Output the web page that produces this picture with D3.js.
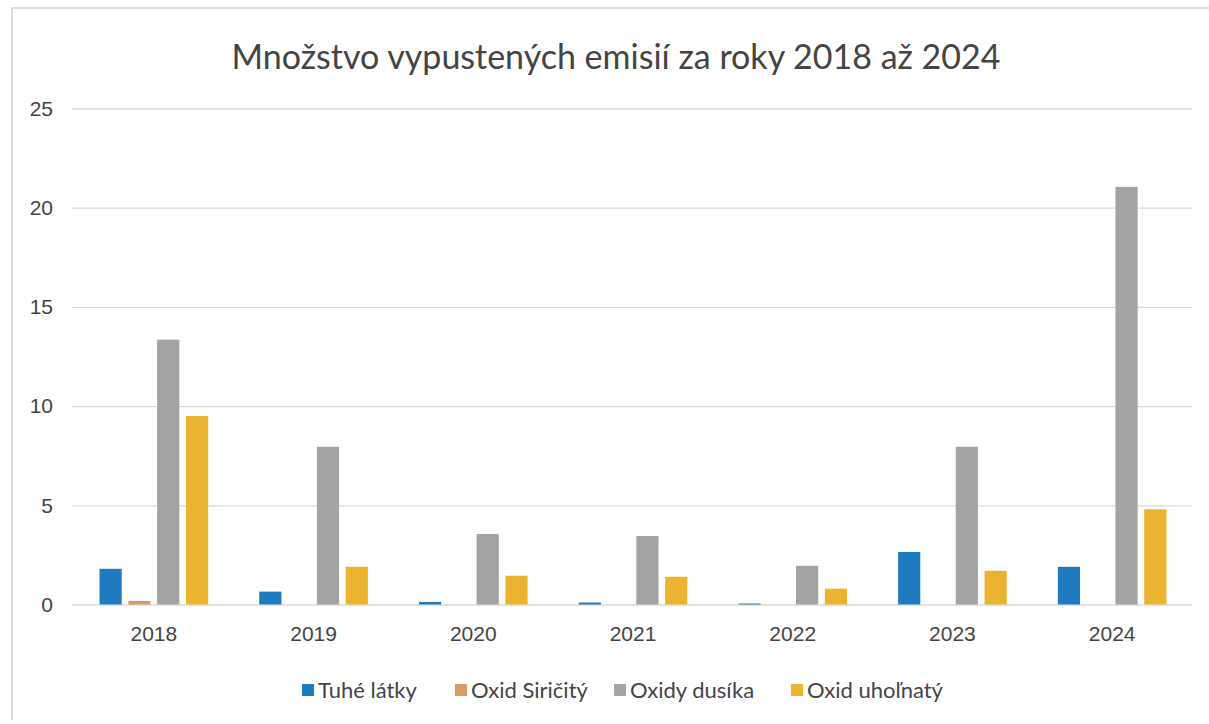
<!DOCTYPE html>
<html>
<head>
<meta charset="utf-8">
<script src="https://cdn.jsdelivr.net/npm/d3@7"></script>
<style>
    body { margin: 0; background: #fff; }
    svg { font-family: Lato, "Open Sans", sans-serif; }
</style>
</head>
<body>
<svg id="chart"></svg>
<script>
const years = ["2018", "2019", "2020", "2021", "2022", "2023", "2024"];
const seriesNames = ["Tuhé látky", "Oxid Siričitý", "Oxidy dusíka", "Oxid uhoľnatý"];
const tuheLatky = [1.8, 0.65, 0.13, 0.1, 0.05, 2.65, 1.9];
const oxidSiricity = [0.18, 0, 0, 0, 0, 0, 0];
const oxidyDusika = [13.35, 7.95, 3.55, 3.45, 1.95, 7.95, 21.05];
const oxidUholnaty = [9.5, 1.9, 1.45, 1.4, 0.8, 1.7, 4.8];
const yTicks = [0, 5, 10, 15, 20, 25];
const colors = ["#1f7bc0", "#d99a63", "#a3a3a1", "#ecb331"];

const width = 1209, height = 724;
const margin = { top: 108.5, right: 17, bottom: 119.5, left: 74 };

const svg = d3.select("#chart")
    .attr("width", width)
    .attr("height", height);

// scan frame (only left and top edges show in the scan)
svg.append("path")
    .attr("d", "M12,720 V8 H1209")
    .attr("fill", "none")
    .attr("stroke", "#d4d4d4")
    .attr("stroke-width", 1.5);

let values = [tuheLatky, oxidSiricity, oxidyDusika, oxidUholnaty];
let data = years.map((y, i) => ({
    year: y,
    vals: seriesNames.map((s, j) => ({ key: s, idx: j, value: values[j][i] }))
}));

let x0 = d3.scaleBand()
    .domain(years)
    .range([margin.left, width - margin.right])
    .paddingInner(0.32)
    .paddingOuter(0.16);

let x1 = d3.scaleBand()
    .domain(seriesNames)
    .range([0, x0.bandwidth()])
    .paddingInner(0.23)
    .paddingOuter(0);

let y = d3.scaleLinear()
    .domain([0, 25])
    .range([height - margin.bottom, margin.top]);

// gridlines
svg.append("g")
    .attr("transform", `translate(${margin.left - 2}, 0)`)
    .call(d3.axisLeft(y).tickValues(yTicks).tickSize(-(width - margin.left - margin.right + 2)).tickFormat(""))
    .call(g => g.select(".domain").remove())
    .selectAll("line")
    .attr("stroke", "#d9d9d9")
    .attr("stroke-width", 1.3);

// y labels
svg.append("g")
    .attr("transform", `translate(${margin.left}, 0)`)
    .call(d3.axisLeft(y).tickValues(yTicks).tickSize(0).tickPadding(21))
    .call(g => g.select(".domain").remove())
    .selectAll("text")
    .attr("fill", "#444")
    .style("font-size", "21px");

// bars
svg.append("g")
    .selectAll("g")
    .data(data)
    .join("g")
    .attr("transform", d => `translate(${x0(d.year)}, 0)`)
    .selectAll("rect")
    .data(d => d.vals)
    .join("rect")
    .attr("x", d => x1(d.key))
    .attr("width", x1.bandwidth())
    .attr("y", d => y(d.value))
    .attr("height", d => y(0) - y(d.value))
    .attr("fill", d => colors[d.idx]);

// x axis
svg.append("g")
    .attr("transform", `translate(0, ${y(0)})`)
    .call(d3.axisBottom(x0).tickSize(0).tickPadding(22))
    .call(g => g.select(".domain").remove())
    .selectAll("text")
    .attr("fill", "#444")
    .style("font-size", "21px");

// title
svg.append("text")
    .attr("x", 616)
    .attr("y", 69)
    .attr("text-anchor", "middle")
    .attr("fill", "#444")
    .style("font-size", "34px")
    .text("Množstvo vypustených emisií za roky 2018 až 2024");

// legend
let legendX = [302, 455, 614, 791];
let legend = svg.append("g").attr("transform", "translate(0, 690)");
let items = legend.selectAll("g")
    .data(seriesNames)
    .join("g")
    .attr("transform", (d, i) => `translate(${legendX[i]}, 0)`);
items.append("rect")
    .attr("x", 0).attr("y", -6)
    .attr("width", 12).attr("height", 12)
    .attr("fill", (d, i) => colors[i]);
items.append("text")
    .attr("x", 16)
    .attr("dy", "0.35em")
    .attr("fill", "#444")
    .style("font-size", "22px")
    .text(d => d);
</script>
</body>
</html>
